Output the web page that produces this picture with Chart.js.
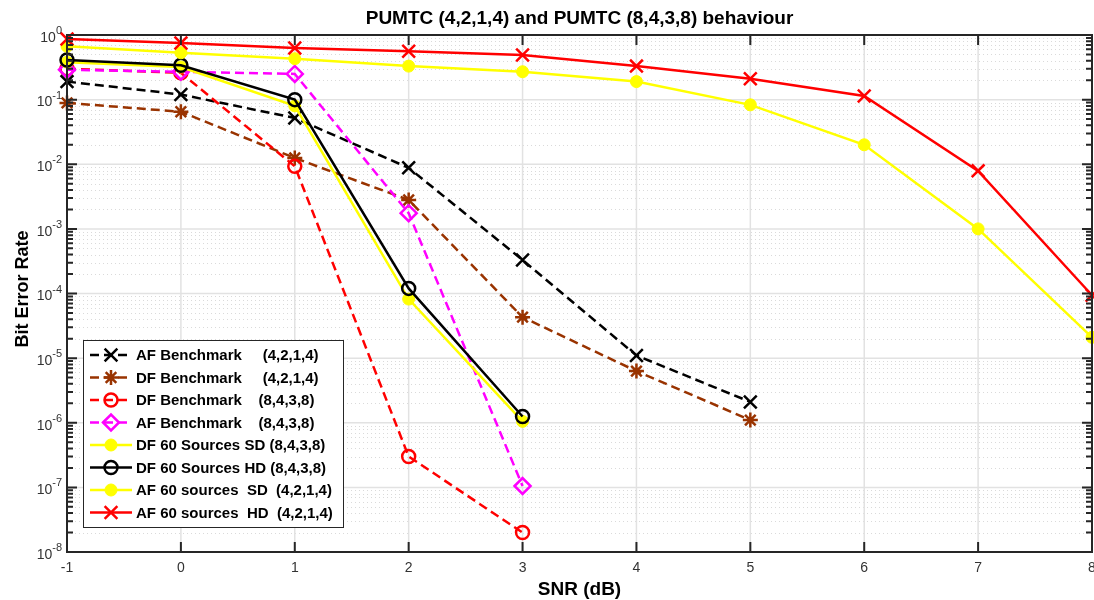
<!DOCTYPE html>
<html>
<head>
<meta charset="utf-8">
<script src="https://cdn.jsdelivr.net/npm/chart.js@4.4.1/dist/chart.umd.min.js"></script>
<style>
  html, body { margin:0; padding:0; background:#fff; overflow:hidden; }
  canvas { display:block; }
</style>
</head>
<body>
<canvas id="ber" width="1094" height="600"></canvas>
<script>
// ── data ──
const snr = [-1, 0, 1, 2, 3, 4, 5, 6, 7, 8];
const yTickExps = [0, -1, -2, -3, -4, -5, -6, -7, -8];

const afBench4214 = [0.19, 0.12, 0.052, 0.0088, 3.3e-4, 1.1e-5, 2.1e-6];
const dfBench4214 = [0.089, 0.065, 0.0125, 0.0028, 4.3e-5, 6.3e-6, 1.1e-6];
const dfBench8438 = [0.30, 0.26, 0.0093, 3.0e-7, 2.0e-8];
const afBench8438 = [0.29, 0.27, 0.25, 0.00175, 1.05e-7];
const df60SD8438  = [0.38, 0.32, 0.080, 8.2e-5, 1.05e-6];
const df60HD8438  = [0.41, 0.34, 0.10, 1.2e-4, 1.25e-6];
const af60SD4214  = [0.67, 0.53, 0.43, 0.33, 0.27, 0.19, 0.083, 0.020, 1.0e-3, 2.1e-5];
const af60HD4214  = [0.87, 0.75, 0.63, 0.56, 0.49, 0.33, 0.21, 0.114, 0.0079, 9.4e-5];

const labels = [
  'AF Benchmark     (4,2,1,4)',
  'DF Benchmark     (4,2,1,4)',
  'DF Benchmark    (8,4,3,8)',
  'AF Benchmark    (8,4,3,8)',
  'DF 60 Sources SD (8,4,3,8)',
  'DF 60 Sources HD (8,4,3,8)',
  'AF 60 sources  SD  (4,2,1,4)',
  'AF 60 sources  HD  (4,2,1,4)'
];

const FONT = '"Liberation Sans", Arial, Helvetica, sans-serif';
const BROWN = '#993300';

const pts = vals => vals.map((v, i) => ({ x: snr[i], y: v }));

function series(i, vals, color, style, dashed, opts) {
  return Object.assign({
    label: labels[i],
    data: pts(vals),
    borderColor: color,
    backgroundColor: color,
    borderWidth: 2.5,
    borderDash: dashed ? [9, 5] : [],
    pointStyle: style,
    pointRadius: 7,
    pointBorderColor: color,
    pointBackgroundColor: 'rgba(0,0,0,0)',
    pointBorderWidth: 2.5,
    order: 8 - i,
    clip: false
  }, opts || {});
}

const datasets = [
  series(0, afBench4214, '#000000', 'crossRot', true, { pointRadius: 9 }),
  series(1, dfBench4214, BROWN, 'star', true, { pointRadius: 7.5 }),
  series(2, dfBench8438, '#ff0000', 'circle', true, { pointRadius: 6.5 }),
  series(3, afBench8438, '#ff00ff', 'rectRot', true, { pointRadius: 8 }),
  series(4, df60SD8438, '#ffff00', 'circle', false, { pointRadius: 6, pointBackgroundColor: '#ffff00', pointBorderWidth: 1 }),
  series(5, df60HD8438, '#000000', 'circle', false, { pointRadius: 6.5 }),
  series(6, af60SD4214, '#ffff00', 'circle', false, { pointRadius: 6, pointBackgroundColor: '#ffff00', pointBorderWidth: 1 }),
  series(7, af60HD4214, '#ff0000', 'crossRot', false, { pointRadius: 9 })
];

// grid, axes box, ticks, labels and legend, all positioned through the chart scales
const matlabFrame = {
  id: 'matlabFrame',
  beforeDatasetsDraw(chart) {
    const { ctx, chartArea: a, scales: { x, y } } = chart;
    ctx.save();
    // minor horizontal grid (dotted)
    ctx.strokeStyle = '#dadada';
    ctx.lineWidth = 1;
    ctx.setLineDash([1, 3]);
    for (let e = -8; e < 0; e++) {
      for (let m = 2; m <= 9; m++) {
        const py = Math.round(y.getPixelForValue(m * Math.pow(10, e))) + 0.5;
        ctx.beginPath(); ctx.moveTo(a.left, py); ctx.lineTo(a.right, py); ctx.stroke();
      }
    }
    ctx.setLineDash([]);
    // major grid
    ctx.strokeStyle = '#e2e2e2';
    ctx.lineWidth = 1.5;
    yTickExps.forEach(e => {
      const py = y.getPixelForValue(Math.pow(10, e));
      ctx.beginPath(); ctx.moveTo(a.left, py); ctx.lineTo(a.right, py); ctx.stroke();
    });
    snr.forEach(v => {
      const px = x.getPixelForValue(v);
      ctx.beginPath(); ctx.moveTo(px, a.top); ctx.lineTo(px, a.bottom); ctx.stroke();
    });
    ctx.restore();
  },
  afterDatasetsDraw(chart) {
    const { ctx, chartArea: a, scales: { x, y } } = chart;
    ctx.save();
    ctx.strokeStyle = '#262626';
    ctx.lineWidth = 2;
    // ticks (inside)
    ctx.beginPath();
    snr.forEach(v => {
      const px = x.getPixelForValue(v);
      ctx.moveTo(px, a.bottom); ctx.lineTo(px, a.bottom - 10);
      ctx.moveTo(px, a.top); ctx.lineTo(px, a.top + 10);
    });
    for (let e = -8; e <= 0; e++) {
      for (let m = 1; m <= 9; m++) {
        if (e === 0 && m > 1) break;
        const py = y.getPixelForValue(m * Math.pow(10, e));
        const len = m === 1 ? 10 : 6;
        ctx.moveTo(a.left, py); ctx.lineTo(a.left + len, py);
        ctx.moveTo(a.right, py); ctx.lineTo(a.right - len, py);
      }
    }
    ctx.stroke();
    // axes box
    ctx.strokeRect(a.left, a.top, a.right - a.left, a.bottom - a.top);

    // tick labels
    ctx.fillStyle = '#333333';
    ctx.textBaseline = 'middle';
    ctx.textAlign = 'center';
    ctx.font = '14px ' + FONT;
    snr.forEach(v => ctx.fillText(String(v), x.getPixelForValue(v), a.bottom + 16));
    yTickExps.forEach(e => {
      const py = y.getPixelForValue(Math.pow(10, e));
      ctx.font = '11px ' + FONT;
      ctx.textAlign = 'right';
      const ex = String(e);
      const right = a.left - 5;
      ctx.fillText(ex, right, py - 4);
      const ew = ctx.measureText(ex).width;
      ctx.font = '14px ' + FONT;
      ctx.fillText('10', right - ew, py + 3);
    });

    // titles
    ctx.fillStyle = '#000';
    ctx.textAlign = 'center';
    ctx.font = 'bold 19px ' + FONT;
    ctx.fillText('PUMTC (4,2,1,4) and PUMTC (8,4,3,8) behaviour', (a.left + a.right) / 2, 19);
    ctx.font = 'bold 19px ' + FONT;
    ctx.fillText('SNR (dB)', (a.left + a.right) / 2, 590);
    ctx.save();
    ctx.translate(23, 289);
    ctx.rotate(-Math.PI / 2);
    ctx.font = 'bold 18px ' + FONT;
    ctx.fillText('Bit Error Rate', 0, 0);
    ctx.restore();

    // legend
    const lx = 83, ly = 340, lw = 260, lh = 187, rowH = 22.5;
    ctx.fillStyle = '#fff';
    ctx.fillRect(lx, ly, lw, lh);
    ctx.strokeStyle = '#262626';
    ctx.lineWidth = 1;
    ctx.strokeRect(lx + 0.5, ly + 0.5, lw, lh);
    chart.data.datasets.forEach((ds, i) => {
      const cy = ly + 15 + i * rowH;
      ctx.save();
      ctx.strokeStyle = ds.borderColor;
      ctx.lineWidth = ds.borderWidth;
      ctx.setLineDash(ds.borderDash);
      ctx.beginPath(); ctx.moveTo(90, cy); ctx.lineTo(132, cy); ctx.stroke();
      ctx.setLineDash([]);
      ctx.strokeStyle = ds.pointBorderColor;
      ctx.fillStyle = ds.pointBackgroundColor;
      ctx.lineWidth = ds.pointBorderWidth;
      Chart.helpers.drawPoint(ctx, { pointStyle: ds.pointStyle, radius: ds.pointRadius, rotation: 0, borderWidth: ds.pointBorderWidth }, 111, cy);
      ctx.restore();
      ctx.fillStyle = '#000';
      ctx.textAlign = 'left';
      ctx.textBaseline = 'middle';
      ctx.font = 'bold 15px ' + FONT;
      ctx.fillText(ds.label, 136, cy + 1);
    });
    ctx.restore();
  }
};

new Chart(document.getElementById('ber'), {
  type: 'line',
  data: { datasets },
  options: {
    responsive: false,
    animation: false,
    layout: { autoPadding: false, padding: { left: 67, right: 2, top: 35, bottom: 48 } },
    plugins: { legend: { display: false }, tooltip: { enabled: false }, title: { display: false } },
    scales: {
      x: { type: 'linear', min: -1, max: 8, display: false },
      y: { type: 'logarithmic', min: 1e-8, max: 1, display: false }
    }
  },
  plugins: [matlabFrame]
});
</script>
</body>
</html>
